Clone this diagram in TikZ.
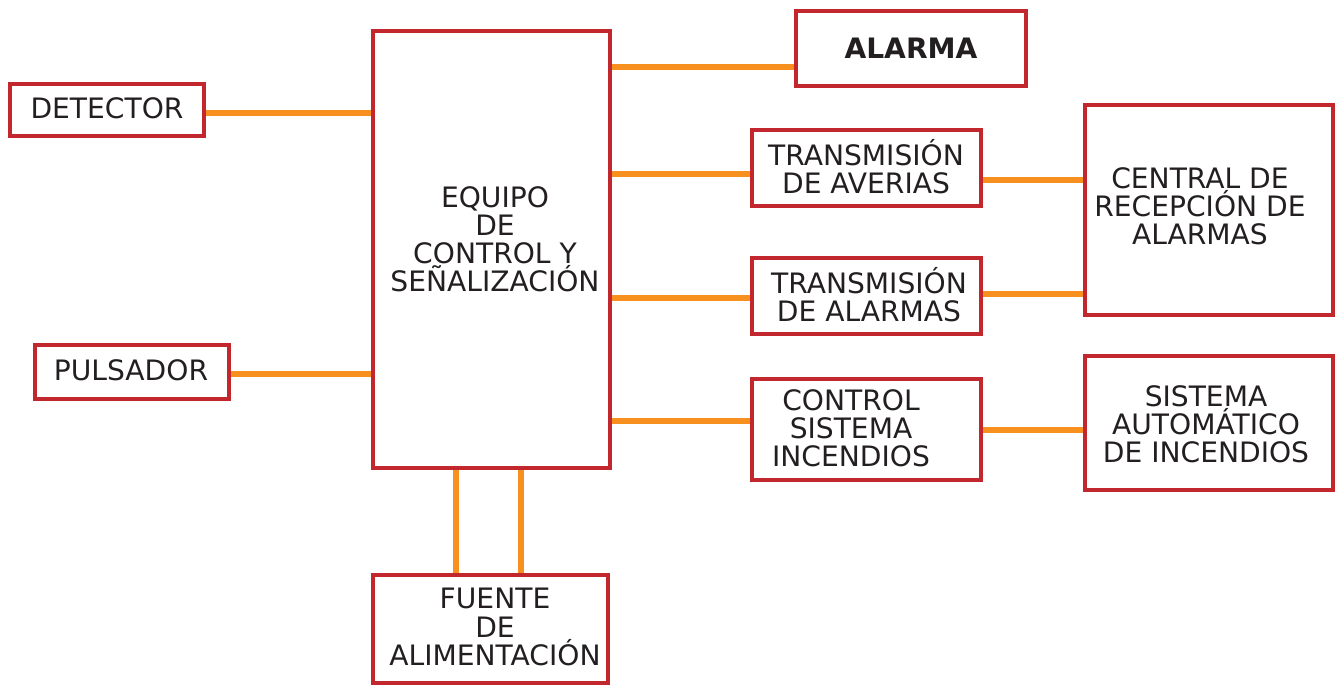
\documentclass[tikz,border=0pt]{standalone}
\usepackage{fontspec}
\setmainfont{DejaVu Sans}
\definecolor{boxred}{HTML}{C1272D}
\definecolor{wireorange}{HTML}{F7901E}
\definecolor{inkgray}{HTML}{231F20}
\tikzset{
	caja/.style={draw=boxred, line width=1.15pt, fill=white, inner sep=0pt},
	rotulo/.style={text=inkgray, align=center, inner sep=0pt, font=\fontsize{8}{8}\selectfont},
	cable/.style={draw=wireorange, line width=1.5pt}
}
\begin{document}
\begin{tikzpicture}[x=0.01cm, y=-0.01cm]
		\useasboundingbox (0,0) rectangle (1338,684);

		\node[caja, minimum width=1.94cm, minimum height=0.52cm] (detector) at (107,110) {};
		\node[caja, minimum width=1.94cm, minimum height=0.54cm] (pulsador) at (132,372) {};
		\node[caja, minimum width=2.37cm, minimum height=4.37cm] (equipo) at (491.5,249.5) {};
		\node[caja, minimum width=2.35cm, minimum height=1.08cm] (fuente) at (490.5,629) {};
		\node[caja, minimum width=2.30cm, minimum height=0.75cm] (alarma) at (911,48.5) {};
		\node[caja, minimum width=2.29cm, minimum height=0.76cm] (averias) at (866.5,168) {};
		\node[caja, minimum width=2.29cm, minimum height=0.76cm] (alarmas) at (866.5,296) {};
		\node[caja, minimum width=2.29cm, minimum height=1.01cm] (control) at (866.5,429.5) {};
		\node[caja, minimum width=2.48cm, minimum height=2.10cm] (central) at (1209,210) {};
		\node[caja, minimum width=2.48cm, minimum height=1.34cm] (automatico) at (1209,423) {};

		\draw[cable] (detector.east |- 0,113) -- (equipo.west |- 0,113);
		\draw[cable] (pulsador.east |- 0,374) -- (equipo.west |- 0,374);
		\draw[cable] (equipo.east |- 0,67) -- (alarma.west |- 0,67);
		\draw[cable] (equipo.east |- 0,174) -- (averias.west |- 0,174);
		\draw[cable] (equipo.east |- 0,298) -- (alarmas.west |- 0,298);
		\draw[cable] (equipo.east |- 0,421) -- (control.west |- 0,421);
		\draw[cable] (averias.east |- 0,180) -- (central.west |- 0,180);
		\draw[cable] (alarmas.east |- 0,294) -- (central.west |- 0,294);
		\draw[cable] (control.east |- 0,430) -- (automatico.west |- 0,430);
		\draw[cable] (equipo.south -| 456,0) -- (fuente.north -| 456,0);
		\draw[cable] (equipo.south -| 521,0) -- (fuente.north -| 521,0);

		\node[rotulo] (detector-txt) at (107,108) {DETECTOR};
		\node[rotulo] (pulsador-txt) at (131,370) {PULSADOR};
		\node[rotulo] (equipo-txt) at (495,239) {EQUIPO\\DE\\CONTROL Y\\SEÑALIZACIÓN};
		\node[rotulo] (fuente-txt) at (495,627) {FUENTE\\DE\\ALIMENTACIÓN};
		\node[rotulo, font=\fontsize{8}{8}\selectfont\bfseries] (alarma-txt) at (911,48) {ALARMA};
		\node[rotulo] (averias-txt) at (866,167) {TRANSMISIÓN\\DE AVERIAS};
		\node[rotulo] (alarmas-txt) at (869,295) {TRANSMISIÓN\\DE ALARMAS};
		\node[rotulo] (control-txt) at (851,428) {CONTROL\\SISTEMA\\INCENDIOS};
		\node[rotulo] (central-txt) at (1200,206) {CENTRAL DE\\RECEPCIÓN DE\\ALARMAS};
		\node[rotulo] (automatico-txt) at (1206,424) {SISTEMA\\AUTOMÁTICO\\DE INCENDIOS};
	\end{tikzpicture}
\end{document}
